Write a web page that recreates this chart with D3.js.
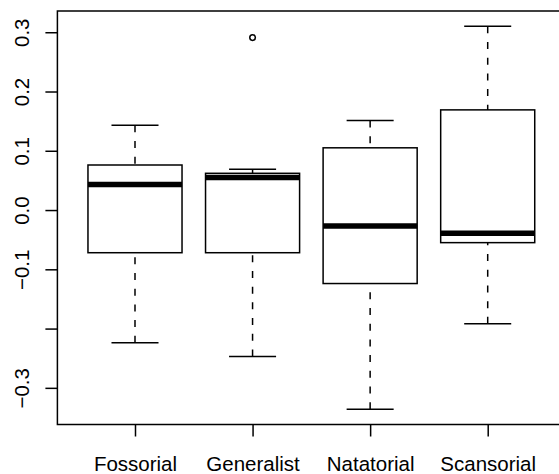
<!DOCTYPE html>
<html>
<head>
<meta charset="utf-8">
<script src="https://cdn.jsdelivr.net/npm/d3@7"></script>
<style>
  body { margin: 0; background: #fff; }
  text { font-family: "Liberation Sans", Arial, sans-serif; }
</style>
</head>
<body>
<svg></svg>
<script>
const width = 559;
const height = 474;

// groups and five-number summaries
const groups = ["Fossorial", "Generalist", "Natatorial", "Scansorial"];
const whiskLow = [-0.224, -0.247, -0.336, -0.192];
const q1 = [-0.072, -0.072, -0.124, -0.055];
const medians = [0.043, 0.055, -0.027, -0.039];
const q3 = [0.076, 0.062, 0.105, 0.169];
const whiskHigh = [0.143, 0.069, 0.151, 0.310];
const outliers = [[], [0.291], [], []];

const yTicks = [-0.3, -0.2, -0.1, 0.0, 0.1, 0.2, 0.3];
const yTickLabels = ["\u22120.3", "", "\u22120.1", "0.0", "0.1", "0.2", "0.3"];

const plotLeft = 57.4, plotTop = 11, plotBottom = 424.5;
const unit = 117.57;

var svg = d3.select("svg")
  .attr("width", width)
  .attr("height", height);

// data range padded by 4% like R
const all = whiskLow.concat(whiskHigh, outliers.flat());
const lo = d3.min(all), hi = d3.max(all);
const pad = (hi - lo) * 0.04;

const y = d3.scaleLinear()
  .domain([lo - pad, hi + pad])
  .range([plotBottom, plotTop]);

const x = d3.scaleLinear()
  .domain([0.34, 4.66])
  .range([plotLeft, plotLeft + 4.32 * unit]);

const boxes = groups.map((g, i) => ({
  name: g, pos: i + 1,
  lo: whiskLow[i], q1: q1[i], med: medians[i], q3: q3[i], hi: whiskHigh[i],
  out: outliers[i]
}));

const halfBox = x(0.4) - x(0);
const halfStaple = x(0.2) - x(0);
const lw = 1.5;

const g = svg.append("g");

// whiskers (dashed), drawn from the whisker end towards the hinge
g.selectAll(".wlow").data(boxes).enter().append("line")
  .attr("x1", d => x(d.pos)).attr("x2", d => x(d.pos))
  .attr("y1", d => y(d.lo)).attr("y2", d => y(d.q1))
  .attr("stroke", "#000").attr("stroke-width", lw)
  .attr("stroke-dasharray", "7,8.7");

g.selectAll(".whigh").data(boxes).enter().append("line")
  .attr("x1", d => x(d.pos)).attr("x2", d => x(d.pos))
  .attr("y1", d => y(d.hi)).attr("y2", d => y(d.q3))
  .attr("stroke", "#000").attr("stroke-width", lw)
  .attr("stroke-dasharray", "7,8.7");

// staples
["lo", "hi"].forEach(k => {
  g.selectAll(".staple-" + k).data(boxes).enter().append("line")
    .attr("x1", d => x(d.pos) - halfStaple).attr("x2", d => x(d.pos) + halfStaple)
    .attr("y1", d => y(d[k])).attr("y2", d => y(d[k]))
    .attr("stroke", "#000").attr("stroke-width", lw);
});

// boxes
g.selectAll("rect.box").data(boxes).enter().append("rect")
  .attr("class", "box")
  .attr("x", d => x(d.pos) - halfBox)
  .attr("width", halfBox * 2)
  .attr("y", d => y(d.q3))
  .attr("height", d => y(d.q1) - y(d.q3))
  .attr("fill", "none")
  .attr("stroke", "#000").attr("stroke-width", lw);

// medians
g.selectAll(".med").data(boxes).enter().append("line")
  .attr("x1", d => x(d.pos) - halfBox).attr("x2", d => x(d.pos) + halfBox)
  .attr("y1", d => y(d.med)).attr("y2", d => y(d.med))
  .attr("stroke", "#000").attr("stroke-width", 5.5);

// outliers
boxes.forEach(d => {
  g.selectAll(null).data(d.out).enter().append("circle")
    .attr("cx", x(d.pos)).attr("cy", v => y(v))
    .attr("r", 2.8)
    .attr("fill", "none").attr("stroke", "#000").attr("stroke-width", lw);
});

// frame
svg.append("rect")
  .attr("x", plotLeft).attr("y", plotTop)
  .attr("width", x.range()[1] - plotLeft).attr("height", plotBottom - plotTop)
  .attr("fill", "none").attr("stroke", "#000").attr("stroke-width", lw);

// y axis
const yAxis = svg.append("g")
  .attr("transform", "translate(" + plotLeft + ",0)")
  .call(d3.axisLeft(y).tickValues(yTicks).tickSize(12)
    .tickFormat((d, i) => yTickLabels[i]));
yAxis.select(".domain").remove();
yAxis.selectAll("line").attr("stroke-width", lw);
yAxis.selectAll("text")
  .attr("transform", "rotate(-90)")
  .attr("x", 0).attr("y", -28).attr("dy", 0)
  .attr("text-anchor", "middle")
  .attr("font-size", 20.5)
  .attr("font-family", "Liberation Sans, Arial, sans-serif")
  .attr("fill", "#000");

// x axis
const xAxis = svg.append("g")
  .attr("transform", "translate(0," + plotBottom + ")")
  .call(d3.axisBottom(x).tickValues(boxes.map(d => d.pos)).tickSize(12)
    .tickFormat((d, i) => groups[i]));
xAxis.select(".domain").remove();
xAxis.selectAll("line").attr("stroke-width", lw);
xAxis.selectAll("text")
  .attr("y", 46).attr("dy", 0)
  .attr("font-size", 20.5)
  .attr("font-family", "Liberation Sans, Arial, sans-serif")
  .attr("fill", "#000");
</script>
</body>
</html>
